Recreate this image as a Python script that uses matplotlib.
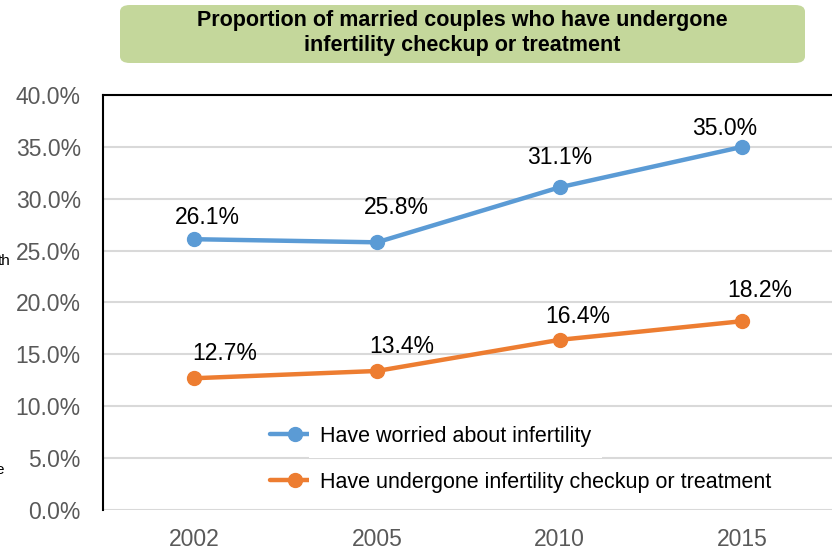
import matplotlib.pyplot as plt
from matplotlib.patches import FancyBboxPatch

years = ['2002', '2005', '2010', '2015']
worried = [26.1, 25.8, 31.1, 35.0]
treated = [12.7, 13.4, 16.4, 18.2]
series_names = ['Have worried about infertility',
                'Have undergone infertility checkup or treatment']
title = 'Proportion of married couples who have undergone\ninfertility checkup or treatment'

# label offsets (pixels) as placed in the original
off_worried = [(13, 22), (19, 35), (0, 30), (-18, 18)]
off_treated = [(30, 25), (25, 24), (18, 23), (18, 31)]

plt.rcParams['font.family'] = ['Liberation Sans', 'DejaVu Sans']

fig = plt.figure(figsize=(8.32, 5.51), dpi=100)
ax = fig.add_axes([0.1238, 0.0744, 0.878, 0.7532])

x = range(len(years))
blue = '#5B9BD5'
orange = '#ED7D31'
ax.plot(x, worried, color=blue, lw=3.2, marker='o', ms=10, label=series_names[0],
        solid_capstyle='round', zorder=3)
ax.plot(x, treated, color=orange, lw=3.2, marker='o', ms=10, label=series_names[1],
        solid_capstyle='round', zorder=3)

for xi, v, o in zip(x, worried, off_worried):
    ax.annotate(f'{v:.1f}%', (xi, v), xytext=o, textcoords='offset pixels',
                ha='center', va='center', fontsize=16.5, color='black')
for xi, v, o in zip(x, treated, off_treated):
    ax.annotate(f'{v:.1f}%', (xi, v), xytext=o, textcoords='offset pixels',
                ha='center', va='center', fontsize=16.5, color='black')

ax.set_xlim(-0.5, 3.5)
ax.set_ylim(0, 40)
ax.set_yticks(range(0, 41, 5))
ax.set_yticklabels([f'{t:.1f}%' for t in range(0, 41, 5)])
ax.set_xticks(list(x))
ax.set_xticklabels(years)
ax.tick_params(axis='both', length=0, labelsize=16.5, labelcolor='#595959')
ax.tick_params(axis='y', pad=16)
ax.tick_params(axis='x', pad=13)
ax.yaxis.grid(True, color='#D9D9D9', lw=1.5)
ax.set_axisbelow(True)
for s in ['right', 'bottom']:
    ax.spines[s].set_visible(False)
for s in ['left', 'top']:
    ax.spines[s].set_color('black')
    ax.spines[s].set_linewidth(1.5)

leg = ax.legend(loc='lower left', bbox_to_anchor=(0.229, 0.042), frameon=False,
                fontsize=15.5, handlelength=2.3, handletextpad=0.0, labelspacing=1.15,
                borderaxespad=0, borderpad=0)
for t in leg.get_texts():
    t.set_bbox(dict(facecolor='white', edgecolor='none', pad=8))

# title box
box = FancyBboxPatch((120 / 832, 1 - 63 / 551), 685 / 832, 58 / 551,
                     boxstyle='round,pad=0,rounding_size=0.012',
                     transform=fig.transFigure, facecolor='#C4D79B',
                     edgecolor='none')
fig.patches.append(box)
fig.text(462 / 832, 1 - 33 / 551, title, ha='center', va='center',
         fontsize=15.5, fontweight='bold', linespacing=1.3,
         family=['Liberation Sans Narrow', 'Liberation Sans', 'DejaVu Sans'])

# clipped remnants of text at the left edge (cut off in the original too)
fig.text(11 / 832, 1 - 261 / 551, 'th', ha='right', va='center', fontsize=11)
fig.text(4 / 832, 1 - 470 / 551, 'e', ha='right', va='center', fontsize=11)

fig.savefig('out.png', dpi=100)
